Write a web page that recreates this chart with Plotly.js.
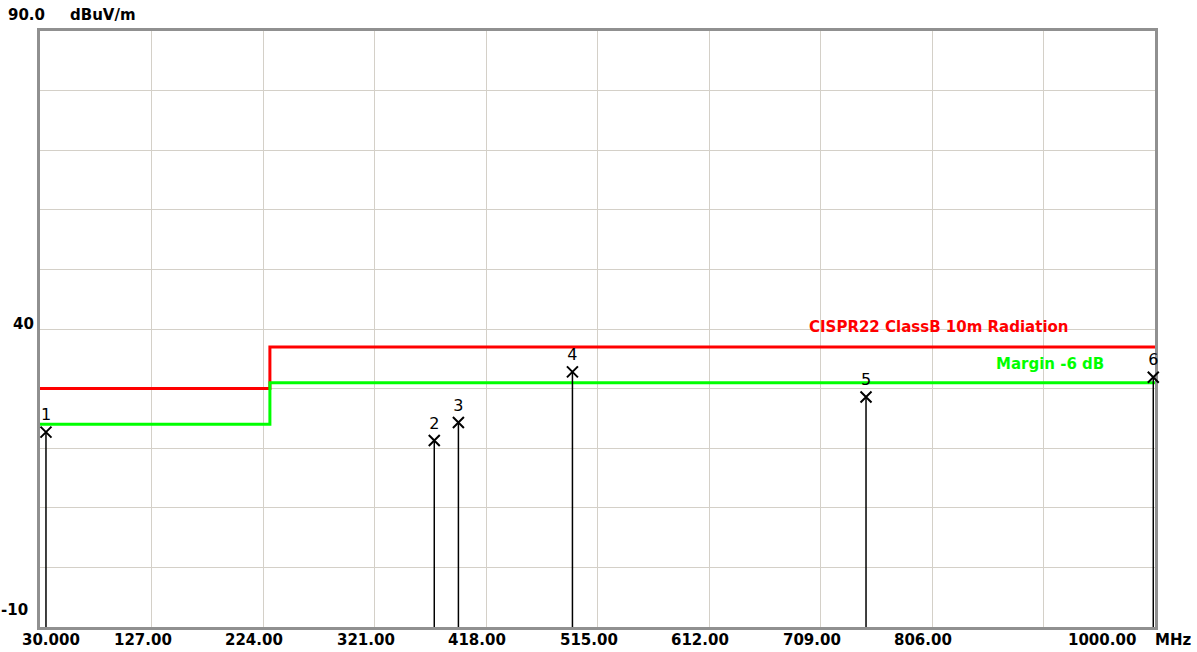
<!DOCTYPE html>
<html>
<head>
<meta charset="utf-8">
<script src="https://cdn.plot.ly/plotly-3.0.1.min.js"></script>
<style>html,body{margin:0;padding:0;background:#fff;} #chart{width:1197px;height:652px;}</style>
</head>
<body>
<div id="chart"></div>
<script>
// ---- data ----
const markerIds   = ['1', '2', '3', '4', '5', '6'];
const markerFreqs = [35.2, 373.0, 394.0, 493.2, 748.6, 998.5];
const markerLevels = [22.7, 21.3, 24.3, 32.8, 28.6, 31.9];

const limitFreqs  = [30, 230, 1000];
const limitLevels = [30, 37, 37];
const marginLevels = [24, 31, 31];

const xGridVals = [30, 127, 224, 321, 418, 515, 612, 709, 806, 903, 1000];
const xTickVals = [30, 127, 224, 321, 418, 515, 612, 709, 806, 1000];
const xTickText = ['30.000', '127.00', '224.00', '321.00', '418.00', '515.00', '612.00', '709.00', '806.00', '1000.00'];
const yGridVals = [-10, 0, 10, 20, 30, 40, 50, 60, 70, 80, 90];
const yTickVals = [90, 40, -10];
const yTickText = ['90.0', '40', '-10'];
const xUnit = 'MHz';
const yUnit = 'dBuV/m';
const limitName = 'CISPR22 ClassB 10m Radiation';
const marginName = 'Margin -6 dB';

// ---- build ----
const FONT = 'DejaVu Sans, Liberation Sans, Arial, sans-serif';
const PL = 40, PW = 1115;
const px = p => (p - PL) / PW;   // figure pixel -> paper fraction
const stemX = [], stemY = [];
markerFreqs.forEach((f, i) => { stemX.push(f, f, null); stemY.push(markerLevels[i], -10, null); });

const traces = [
  { x: limitFreqs, y: limitLevels, mode: 'lines', line: { color: '#ff0000', width: 3, shape: 'hv' }, hoverinfo: 'skip' },
  { x: limitFreqs, y: marginLevels, mode: 'lines', line: { color: '#00ff00', width: 3, shape: 'hv' }, hoverinfo: 'skip' },
  { x: stemX, y: stemY, mode: 'lines', line: { color: '#000000', width: 1.5 }, hoverinfo: 'skip' },
  { x: markerFreqs, y: markerLevels, mode: 'markers+text', text: markerIds, textposition: 'top center',
    cliponaxis: false,
    textfont: { family: FONT, size: 16, color: '#000' },
    marker: { symbol: 'x-thin-open', size: 11, color: '#000', line: { color: '#000', width: 2 } }, hoverinfo: 'skip' }
];

const BF = (c) => ({ family: FONT, size: 15, color: c, weight: 'bold' });
const annotations = [];
const xShifts = [11, -9, -9, -9, -9, -9, -9, -9, -9, -53];
xTickVals.forEach((v, i) => annotations.push({
  x: v, y: -10, xref: 'x', yref: 'y', text: xTickText[i], showarrow: false,
  xanchor: 'center', yanchor: 'middle', xshift: xShifts[i], yshift: -13, font: BF('#000')
}));
annotations.push({ x: 1000, y: -10, xref: 'x', yref: 'y', text: xUnit, showarrow: false,
  xanchor: 'center', yanchor: 'middle', xshift: 18, yshift: -13, font: BF('#000') });
const yPix = [[26.5, 16], [23.5, 5], [14, 17]];
yTickVals.forEach((v, i) => annotations.push({
  x: px(yPix[i][0]), y: v, xref: 'paper', yref: 'y', text: yTickText[i], showarrow: false,
  xanchor: 'center', yanchor: 'middle', yshift: yPix[i][1], font: BF('#000')
}));
annotations.push({ x: px(103), y: 90, xref: 'paper', yref: 'y', text: yUnit, showarrow: false,
  xanchor: 'center', yanchor: 'middle', yshift: 16, font: BF('#000') });
annotations.push({ x: px(938.5), y: 37, xref: 'paper', yref: 'y', text: limitName, showarrow: false,
  xanchor: 'center', yanchor: 'middle', yshift: 20, font: BF('#ff0000') });
annotations.push({ x: px(1049.5), y: 31, xref: 'paper', yref: 'y', text: marginName, showarrow: false,
  xanchor: 'center', yanchor: 'middle', yshift: 19, font: BF('#00ff00') });

const layout = {
  width: 1197, height: 652,
  margin: { l: 40, r: 42, t: 31, b: 25 },
  paper_bgcolor: '#ffffff', plot_bgcolor: '#ffffff',
  showlegend: false,
  xaxis: { range: [30, 1000], tickmode: 'array', tickvals: xGridVals, showticklabels: false, ticks: '',
    showgrid: true, gridcolor: '#d4d0c8', gridwidth: 1, zeroline: false, layer: 'below traces',
    showline: true, mirror: true, linecolor: '#909090', linewidth: 3 },
  yaxis: { range: [-10, 90], tickmode: 'array', tickvals: yGridVals, showticklabels: false, ticks: '',
    showgrid: true, gridcolor: '#d4d0c8', gridwidth: 1, zeroline: false, layer: 'below traces',
    showline: true, mirror: true, linecolor: '#909090', linewidth: 3 },
  annotations: annotations
};

Plotly.newPlot('chart', traces, layout, { displayModeBar: false, staticPlot: true });
</script>
</body>
</html>
